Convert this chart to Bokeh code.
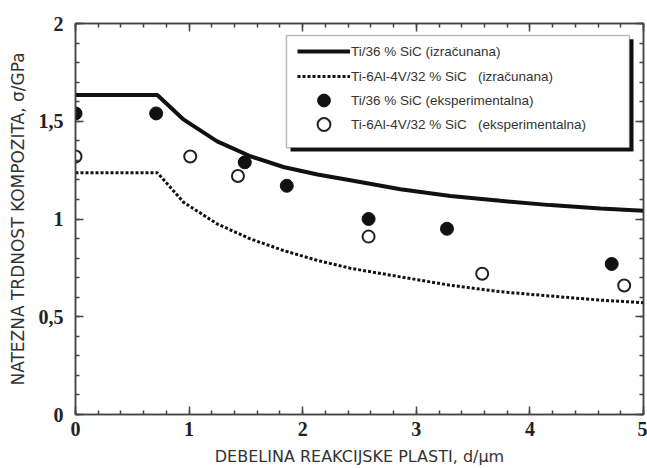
from bokeh.plotting import figure
from bokeh.models import (Range1d, FixedTicker, LinearAxis, Legend, LegendItem,
                          BoxAnnotation, CustomLabelingPolicy)
from bokeh.embed import file_html
from bokeh.resources import INLINE

# ---- data ----
solid_x = [0, 0.72, 0.953, 1.247, 1.54, 1.83, 2.13, 2.42, 2.86, 3.30, 3.74, 4.18, 4.62, 5.0]
solid_y = [1.634, 1.634, 1.508, 1.397, 1.321, 1.266, 1.228, 1.198, 1.152, 1.118, 1.093, 1.071, 1.054, 1.042]

dot_x = [0, 0.72, 0.953, 1.247, 1.54, 1.83, 2.13, 2.42, 2.86, 3.30, 3.74, 4.18, 4.62, 5.0]
dot_y = [1.237, 1.237, 1.085, 0.975, 0.898, 0.839, 0.788, 0.748, 0.704, 0.661, 0.628, 0.606, 0.585, 0.572]

filled_x = [0, 0.71, 1.49, 1.86, 2.58, 3.27, 4.72]
filled_y = [1.54, 1.54, 1.29, 1.17, 1.00, 0.95, 0.77]

open_x = [0, 1.01, 1.43, 2.58, 3.58, 4.83]
open_y = [1.32, 1.32, 1.22, 0.91, 0.72, 0.66]

labels = ["Ti/36 % SiC (izračunana)",
          "Ti-6Al-4V/32 % SiC\u00a0\u00a0 (izračunana)",
          "Ti/36 % SiC (eksperimentalna)",
          "Ti-6Al-4V/32 % SiC\u00a0\u00a0 (eksperimentalna)"]

x_ticks = [0, 1, 2, 3, 4, 5]
y_ticks = [0, 0.5, 1, 1.5, 2]
y_tick_labels = ["0", "0,5", "1", "1,5", "2"]
x_label = "DEBELINA REAKCIJSKE PLASTI, d/\u03bcm"
y_label = "NATEZNA TRDNOST KOMPOZITA, \u03c3/GPa"

# ---- figure ----
p = figure(width=647, height=468, output_backend="svg", toolbar_location=None,
           x_range=Range1d(0, 5), y_range=Range1d(0, 2),
           min_border_left=75, min_border_right=4, min_border_top=23, min_border_bottom=51,
           x_axis_location=None, y_axis_location=None)
p.grid.visible = False
p.outline_line_color = "#444"
p.outline_line_width = 1.5

x_minor = [i * 0.2 for i in range(26)]
y_minor = [i * 0.1 for i in range(21)]
xt = FixedTicker(ticks=x_ticks, minor_ticks=x_minor)
yt = FixedTicker(ticks=y_ticks, minor_ticks=y_minor)

def style_axis(ax, show_labels):
    ax.axis_line_color = "#444"
    ax.axis_line_width = 1.5
    ax.major_tick_in = 8
    ax.major_tick_out = 0
    ax.minor_tick_in = 4
    ax.minor_tick_out = 0
    ax.major_tick_line_color = "#444"
    ax.minor_tick_line_color = "#444"
    ax.major_tick_line_width = 1.5
    ax.minor_tick_line_width = 1.5
    ax.major_label_text_font = "Liberation Serif"
    ax.major_label_text_font_style = "bold"
    ax.major_label_text_font_size = "20px" if show_labels else "1px"
    ax.major_label_text_color = "#222"
    ax.axis_label_text_font = "DejaVu Sans"
    ax.axis_label_text_font_style = "normal"
    ax.axis_label_text_color = "#333"
    if not show_labels:
        ax.major_label_policy = CustomLabelingPolicy(code="return []")
        ax.major_label_standoff = 0

xb = LinearAxis(ticker=xt, axis_label=x_label)
style_axis(xb, True)
xb.major_label_standoff = 7
xb.axis_label_standoff = 8
xb.axis_label_text_font_size = "16px"
p.add_layout(xb, "below")

yl = LinearAxis(ticker=yt, axis_label=y_label)
style_axis(yl, True)
yl.major_label_overrides = {t: s for t, s in zip(y_ticks, y_tick_labels)}
yl.major_label_standoff = 12
yl.axis_label_standoff = 8
yl.axis_label_text_font_size = "17px"
p.add_layout(yl, "left")

xa = LinearAxis(ticker=xt)
style_axis(xa, False)
p.add_layout(xa, "above")

yr = LinearAxis(ticker=yt)
style_axis(yr, False)
p.add_layout(yr, "right")

# ---- data glyphs ----
r1 = p.line(solid_x, solid_y, line_color="#111", line_width=4)
r2 = p.line(dot_x, dot_y, line_color="#111", line_width=3, line_dash="3 2")
r3 = p.scatter(filled_x, filled_y, marker="circle", size=13, fill_color="#111", line_color="#111")
r4 = p.scatter(open_x, open_y, marker="circle", size=12, fill_color="white", line_color="#222", line_width=2)

# ---- legend box with shadow ----
p.add_layout(BoxAnnotation(left=1.893, right=4.912, bottom=1.345, top=1.919,
                           fill_color="#111", fill_alpha=1, line_color=None, level="annotation"))
p.add_layout(BoxAnnotation(left=1.857, right=4.877, bottom=1.365, top=1.939,
                           fill_color="white", fill_alpha=1, line_color="#222", line_width=1.5,
                           level="annotation"))

# one single-row legend per entry, so the markers can be drawn at full size
row_bottoms = [347, 322, 298, 274]
for lab, rend, yb in zip(labels, [r1, r2, r3, r4], row_bottoms):
    lg = Legend(items=[LegendItem(label=lab, renderers=[rend])],
                location=(222, yb), padding=0, margin=0, spacing=0,
                glyph_width=53, glyph_height=32, label_height=32, label_standoff=1,
                border_line_color=None, background_fill_alpha=0,
                label_text_font="Liberation Sans", label_text_font_size="13.5px",
                label_text_color="#333")
    p.add_layout(lg, "center")

open("out.html", "w").write(file_html(p, INLINE))
